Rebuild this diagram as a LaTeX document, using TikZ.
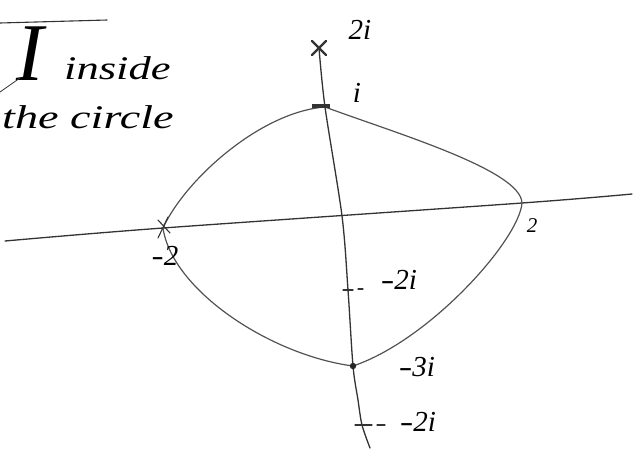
\documentclass[tikz,border=0pt]{standalone}
\usepackage{fontspec}
\setmainfont{Liberation Serif}
\begin{document}
\begin{tikzpicture}[x=1pt,y=-1pt,
  pen/.style={line width=1.3pt,draw=black!80,line cap=round,line join=round},
  curvepen/.style={line width=1.2pt,draw=black!68,line cap=round,line join=round},
  hand/.style={font=\itshape\fontsize{33}{36}\selectfont,inner sep=0pt},
  lab/.style={font=\itshape\fontsize{29}{30}\selectfont,inner sep=0pt}]
\useasboundingbox (0,0) rectangle (634,448);
% axes coordinates
\coordinate (hl) at (5,241);
\coordinate (m2) at (163,228);
\coordinate (p2) at (522,203);
\coordinate (hr) at (632,194);
\coordinate (vt) at (319,48);
\coordinate (pi) at (325,107);
\coordinate (vo) at (342,216);
\coordinate (t2) at (348,290);
\coordinate (b3) at (353,366);
\coordinate (t4) at (362,425);
\coordinate (vb) at (370,448);
% axes
\draw[pen] plot[smooth] coordinates {(hl) (m2) (p2) (hr)};
\draw[pen] plot[smooth] coordinates {(vt) (pi) (vo) (t2) (b3) (358,400) (t4) (vb)};
% the closed curve
\draw[curvepen] (m2) .. controls (185,180) and (260,112) .. (pi)
  .. controls (395,133) and (521,170) .. (p2)
  .. controls (519,240) and (430,340) .. (b3)
  .. controls (270,355) and (172,290) .. (m2) -- cycle;
% marks
\draw[pen,line width=2.4pt] (312,41) -- (326,55) (312,55) -- (326,41);
\draw[pen,line width=1.1pt] (158,238) -- (168,217) (158,220) -- (170,233);
\draw[pen,line width=3.5pt,line cap=butt] (312,106) -- (330,106);
\fill[black!85] (b3) circle (3.2pt);
\draw[pen,line width=1.1pt] (343,290) -- (353,290) (358,289) -- (363,289);
\draw[pen,line width=1.1pt] (355,425) -- (372,425) (377,425) -- (385,425);
% labels
\node[lab] (l2i) at (360,30) {2i};
\node[lab] (li) at (357,93) {i};
\node[lab] (lm2) at (165,256) {\scalebox{1.25}[1]{-}2};
\node[lab,font=\itshape\fontsize{21}{22}\selectfont] (lp2) at (532,226) {2};
\node[lab] (lm2i) at (399,280) {\scalebox{1.4}[1]{-}2i};
\node[lab] (lm3i) at (417,367) {\scalebox{1.4}[1]{-}3i};
\node[lab] (lm2ib) at (418,422) {\scalebox{1.4}[1]{-}2i};
% top-left note
\coordinate (nl) at (0,23);
\coordinate (nr) at (107,20);
\draw[pen,line width=1.1pt] (nl) -- (nr);
\node[font=\fontsize{82}{82}\selectfont\itshape,inner sep=0pt,anchor=base] (bigI) at (30,80) {I};
\coordinate (lk) at (0,92);
\draw[pen,line width=0.8pt] (20,78) -- (lk);
\node[hand,anchor=base west] (ins) at (64,79) {\scalebox{1.35}[1]{inside}};
\node[hand,anchor=base west] (circ) at (2,128) {\scalebox{1.4}[1]{the circle}};
\end{tikzpicture}
\end{document}
